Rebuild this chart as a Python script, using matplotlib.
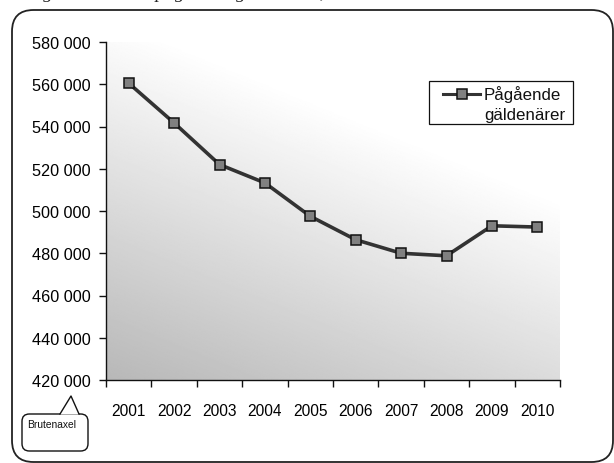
import numpy as np
import matplotlib
matplotlib.use("Agg")
import matplotlib.pyplot as plt
from matplotlib.patches import FancyBboxPatch, Polygon, Rectangle
from matplotlib.lines import Line2D
from matplotlib.ticker import FuncFormatter, FixedLocator

plt.rcParams['font.family'] = ['Liberation Sans', 'DejaVu Sans']

years = ['2001', '2002', '2003', '2004', '2005', '2006', '2007', '2008', '2009', '2010']
debtors = [560500, 541700, 522000, 513300, 497500, 486400, 480000, 478800, 493000, 492400]
series_label = ['Pågående', 'gäldenärer']
y_ticks = [420000, 440000, 460000, 480000, 500000, 520000, 540000, 560000, 580000]
caption = 'Diagram 3  Antal pågående gäldenärer, 2001–2010'

W, H = 614, 464
fig = plt.figure(figsize=(W / 100, H / 100), dpi=100)
fig.patch.set_facecolor('white')

def fx(px):
    return px / W

def fy(py):
    return 1 - py / H

line_style = dict(color='#333333', linewidth=2.6, marker='s', markersize=7,
                  markerfacecolor='#808080', markeredgecolor='#111111',
                  markeredgewidth=1.1)

# outer rounded frame around the chart
frame = FancyBboxPatch((fx(12), fy(463)), fx(613) - fx(12), fy(11) - fy(463),
                       boxstyle="round,pad=0,rounding_size=0.035",
                       transform=fig.transFigure, facecolor='none',
                       edgecolor='#222222', linewidth=1.3, zorder=0,
                       mutation_aspect=W / H)
fig.patches.append(frame)

# caption partially above the chart frame
fig.text(fx(14), fy(-1.5), caption, family='Liberation Serif', style='italic',
         fontsize=14, color='#222222', ha='left', va='baseline')

left, right, top, bottom = 106, 560, 43, 381
ax = fig.add_axes([fx(left), fy(bottom), fx(right) - fx(left), fy(top) - fy(bottom)])
ax.set_facecolor('none')
ax.set_zorder(2)

n = len(years)
x = np.arange(n)
ax.set_xlim(-0.5, n - 0.5)
ax.set_ylim(y_ticks[0], y_ticks[-1])

# diagonal grey-to-white gradient in the plot area
gx, gy = np.meshgrid(np.linspace(0, 1, 300), np.linspace(0, 1, 300))
shade = 0.72 + 0.28 * np.clip((0.55 * gx + gy) / 1.08, 0, 1)
ax.imshow(shade, cmap='gray', vmin=0, vmax=1, origin='lower', aspect='auto',
          extent=(-0.5, n - 0.5, y_ticks[0], y_ticks[-1]), zorder=0,
          interpolation='bilinear')

ax.plot(x, debtors, zorder=3, **line_style)

for s in ['top', 'right']:
    ax.spines[s].set_visible(False)
for s in ['left', 'bottom']:
    ax.spines[s].set_color('#111111')
    ax.spines[s].set_linewidth(1.0)

ax.set_yticks(y_ticks)
ax.yaxis.set_major_formatter(FuncFormatter(lambda v, p: f"{int(v):,}".replace(',', ' ')))
ax.tick_params(axis='y', direction='out', length=5, width=1, color='#111111',
               labelsize=11.7, pad=6)

ax.set_xticks(x)
ax.set_xticklabels(years)
ax.xaxis.set_minor_locator(FixedLocator(np.arange(-0.5, n, 1.0)))
ax.tick_params(axis='x', which='major', length=0, labelsize=11.2, pad=16.5)
ax.tick_params(axis='x', which='minor', direction='out', length=5, width=1,
               color='#111111')

# legend box: sample line beside the first line of the two-line label
fig.patches.append(Rectangle((fx(429), fy(125)), fx(573) - fx(429), fy(82) - fy(125),
                             transform=fig.transFigure, facecolor='white',
                             edgecolor='#111111', linewidth=0.9, zorder=5))
legend_style = dict(line_style, linewidth=2.2, markersize=6.5)
fig.lines.append(Line2D([fx(443), fx(461.5), fx(480)], [fy(94.5)] * 3,
                        transform=fig.transFigure, markevery=[1], zorder=6,
                        **legend_style))
fig.text(fx(484), fy(95), series_label[0], fontsize=12.2, ha='left',
         va='center', color='#111111', zorder=7)
fig.text(fx(484), fy(115.5), series_label[1], fontsize=12.2, ha='left',
         va='center', color='#111111', zorder=7)

# speech bubble marking the broken axis
bub = FancyBboxPatch((fx(22), fy(452)), fx(88) - fx(22), fy(415) - fy(452),
                     boxstyle="round,pad=0,rounding_size=0.012",
                     transform=fig.transFigure, facecolor='white',
                     edgecolor='#111111', linewidth=1.0, zorder=4,
                     mutation_aspect=W / H)
fig.patches.append(bub)
tip = [(fx(60), fy(415.5)), (fx(71), fy(397)), (fx(79), fy(415.5))]
fig.patches.append(Polygon(tip, closed=True, transform=fig.transFigure,
                           facecolor='white', edgecolor='none', zorder=5))
fig.lines.append(Line2D([fx(60), fx(71), fx(79)], [fy(415), fy(397), fy(415)],
                        transform=fig.transFigure, color='#111111',
                        linewidth=1.0, zorder=6))
fig.text(fx(27), fy(425), 'Brutenaxel', fontsize=7.4, ha='left', va='center',
         color='#111111', zorder=7)

fig.savefig('out.png', dpi=100)
